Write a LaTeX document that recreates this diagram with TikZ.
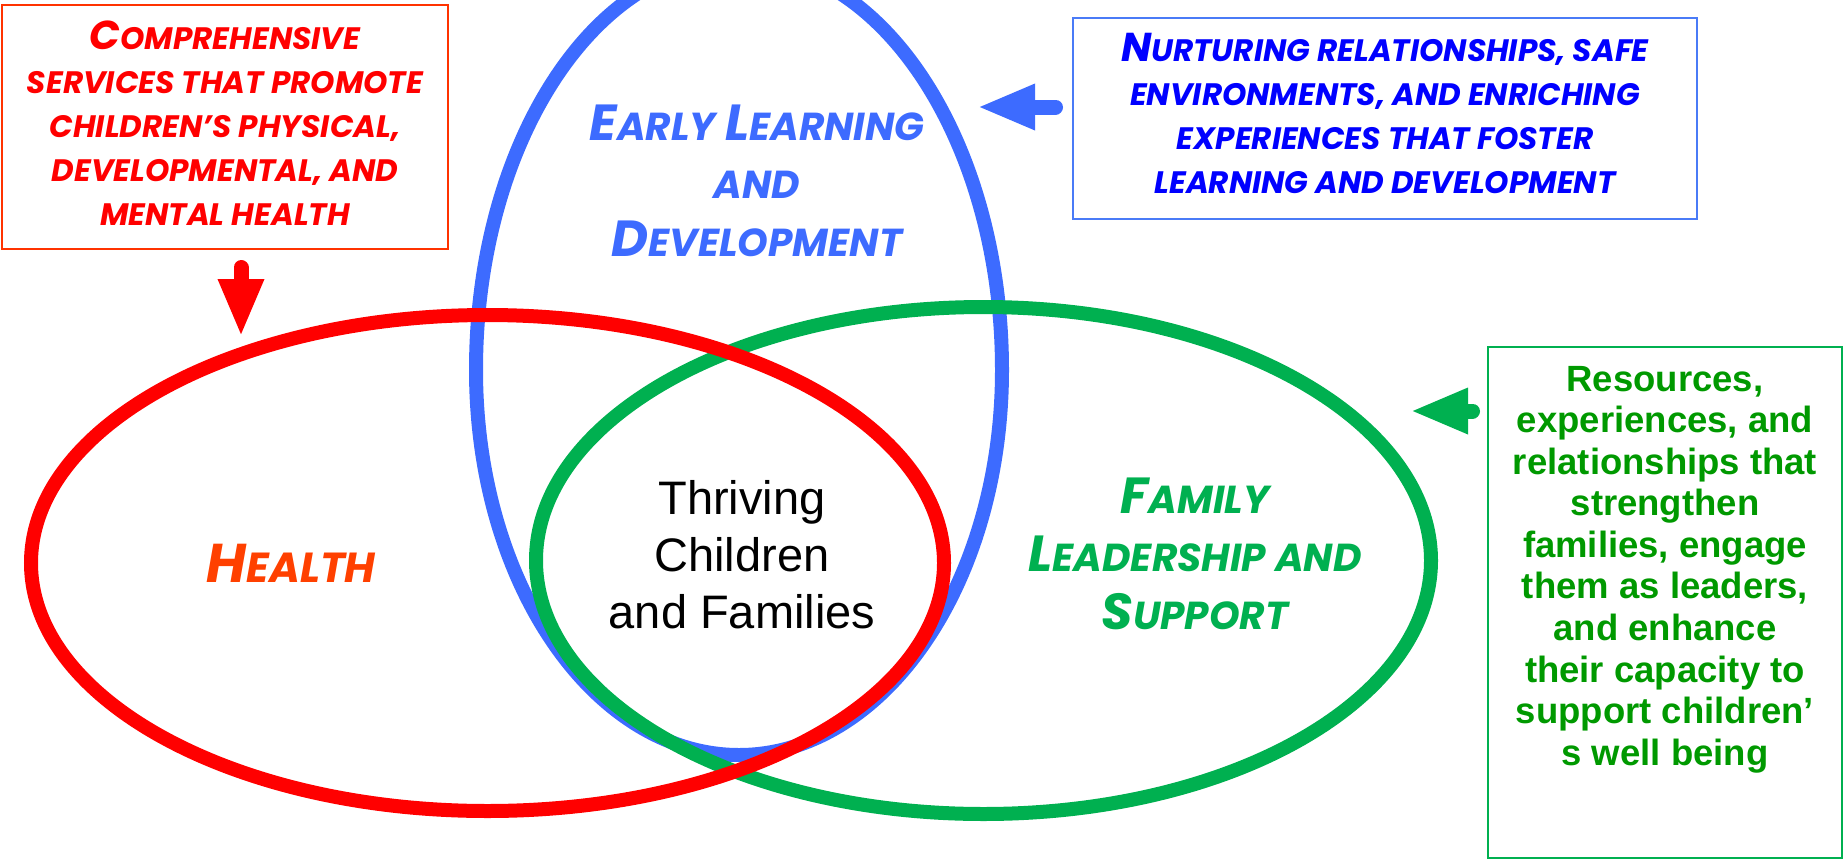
\documentclass[tikz,border=0pt]{standalone}
\usepackage{fontspec}
\usepackage{graphicx}
\setmainfont{Liberation Sans}
\newfontfamily\brushfont{Poppins}
\usetikzlibrary{arrows.meta}
\definecolor{redc}{HTML}{FF0000}
\definecolor{redbox}{HTML}{FF3300}
\definecolor{healthc}{HTML}{FF4000}
\definecolor{bluec}{HTML}{3D6BFF}
\definecolor{bluebox}{HTML}{4A7BF7}
\definecolor{bluetxt}{HTML}{0000FF}
\definecolor{greenc}{HTML}{00B050}
\definecolor{greentxt}{HTML}{009900}
\newcommand\bc[1]{\scalebox{1.3}{#1}}
\begin{document}
\begin{tikzpicture}[x=1pt,y=-1pt,
  venn/.style={line width=14pt},
  boxframe/.style={draw, line width=2pt, inner sep=0pt},
  fatarrow/.style={line width=15pt, line cap=round, -{Triangle[length=58pt,width=42pt]}},
  brushS/.style={font=\brushfont\bfseries\itshape\fontsize{31}{44}\selectfont, align=center, inner sep=0pt},
  brushL/.style={font=\brushfont\bfseries\itshape\fontsize{39}{58}\selectfont, align=center, inner sep=0pt},
  greentext/.style={font=\bfseries\fontsize{36.5}{41.6}\selectfont, align=center, inner sep=0pt, text=greentxt}
]
\useasboundingbox (0,0) rectangle (1845,865);
\clip (0,0) rectangle (1845,865);

% ellipses
\draw[venn, bluec] (476,370) arc[start angle=180,end angle=0,x radius=263pt,y radius=408pt]
  arc[start angle=0,end angle=-180,x radius=263pt,y radius=385pt] -- cycle;
\draw[venn, greenc] (983.5,560.5) ellipse [x radius=447.5pt, y radius=253.5pt];
\draw[venn, redc] (487.5,563) ellipse [x radius=456.5pt, y radius=248pt];

% boxes
\node[boxframe, draw=redbox, minimum width=446pt, minimum height=244pt] (hbox) at (225,127) {};
\node[boxframe, draw=bluebox, minimum width=624pt, minimum height=201pt] (lbox) at (1385,118.5) {};
\node[boxframe, draw=greenc, minimum width=354pt, minimum height=511pt] (fbox) at (1665,602.5) {};

% box texts
\node[brushS, text=redc] (htxt) at (225,123) {\bc{C}OMPREHENSIVE\\SERVICES THAT PROMOTE\\CHILDREN’S PHYSICAL,\\DEVELOPMENTAL, AND\\MENTAL HEALTH};
\node[brushS, text=bluetxt] (ltxt) at (1385,113) {\bc{N}URTURING RELATIONSHIPS, SAFE\\ENVIRONMENTS, AND ENRICHING\\EXPERIENCES THAT FOSTER\\LEARNING AND DEVELOPMENT};
\node[greentext] (ftxt) at (1665,569.5) {Resources,\\experiences, and\\relationships that\\strengthen\\families, engage\\them as leaders,\\and enhance\\their capacity to\\support children’\\s well being};

% circle labels
\node[brushL, text=bluec] (early) at (757,181) {\bc{E}ARLY \bc{L}EARNING\\AND\\\bc{D}EVELOPMENT};
\node[brushL, text=healthc, font=\brushfont\bfseries\itshape\fontsize{42}{58}\selectfont] (health) at (291,563) {\bc{H}EALTH};
\node[brushL, text=greenc] (family) at (1195,554) {\bc{F}AMILY\\\bc{L}EADERSHIP AND\\\bc{S}UPPORT};
\node[font=\fontsize{47}{57}\selectfont, align=center, inner sep=0pt] (thrive) at (742,555) {Thriving\\Children\\and Families};

% arrows
\coordinate (ra0) at (241,267.5); \coordinate (ra1) at (241,337);
\coordinate (ba0) at (1055.5,107); \coordinate (ba1) at (977,107);
\coordinate (ga0) at (1472.5,411); \coordinate (ga1) at (1410,411);
\draw[fatarrow, redc] (ra0) -- (ra1);
\draw[fatarrow, bluec] (ba0) -- (ba1);
\draw[fatarrow, greenc] (ga0) -- (ga1);
\end{tikzpicture}
\end{document}
